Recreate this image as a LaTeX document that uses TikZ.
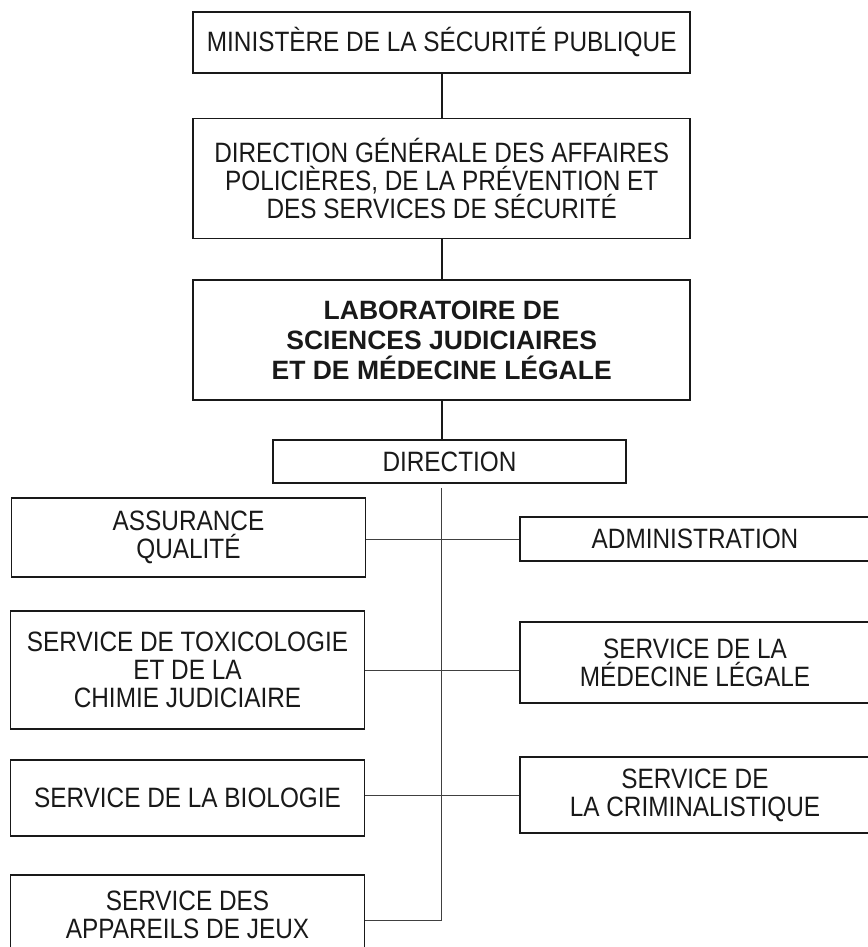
\documentclass[tikz,border=0pt]{standalone}
\usepackage{fontspec}
\setmainfont{Liberation Sans}[FakeStretch=0.87]
\newfontfamily\labfont{Liberation Sans}
\usepackage{tikz}
\usetikzlibrary{positioning}

\tikzset{
  box/.style={draw=black!90, line width=1.6pt, align=center, inner sep=0pt,
    text=black!90, font=\fontsize{28}{28}\selectfont},
  labbox/.style={box, font=\labfont\bfseries\fontsize{26.5}{30}\selectfont},
  leftbox/.style={box, minimum width=354pt},
  rightbox/.style={box, minimum width=350pt},
  bigline/.style={draw=black!90, line width=1.6pt},
  link/.style={draw=black!75, line width=1pt},
}

\begin{document}
\begin{tikzpicture}[x=1pt, y=-1pt]
  \useasboundingbox (0,0) rectangle (867,947);

  % hierarchy on top
  \node[box, minimum width=497pt, minimum height=61pt] (mini) at (441.7,42.5)
    {MINISTÈRE DE LA SÉCURITÉ PUBLIQUE}; %
  \node[box, minimum width=497pt, minimum height=120pt, below=44pt of mini] (dgap)
    {DIRECTION GÉNÉRALE DES AFFAIRES\\POLICIÈRES, DE LA PRÉVENTION ET\\DES SERVICES DE SÉCURITÉ}; %
  \node[labbox, minimum width=497pt, minimum height=120pt, below=40pt of dgap] (lsjml)
    {LABORATOIRE DE\\SCIENCES JUDICIAIRES\\ET DE MÉDECINE LÉGALE}; %
  \node[box, minimum width=353pt, minimum height=43pt] (dir) at (449.5,461.5) {DIRECTION}; %

  % services
  \node[leftbox, minimum height=79pt] (assur) at (188.5,537.5) {ASSURANCE\\QUALITÉ}; %
  \node[rightbox, minimum height=44pt] (admin) at (695,539) {ADMINISTRATION}; %
  \node[leftbox, minimum height=118pt] (toxi) at (187.5,670) {SERVICE DE TOXICOLOGIE\\ET DE LA\\CHIMIE JUDICIAIRE}; %
  \node[rightbox, minimum height=81pt] (medleg) at (695,662.5) {SERVICE DE LA\\MÉDECINE LÉGALE}; %
  \node[leftbox, minimum height=76pt] (bio) at (187.5,798) {SERVICE DE LA BIOLOGIE}; %
  \node[rightbox, minimum height=76pt] (crim) at (695,795) {SERVICE DE\\LA CRIMINALISTIQUE}; %
  \node[leftbox, minimum height=80pt] (appar) at (187.5,915) {SERVICE DES\\APPAREILS DE JEUX}; %

  % links
  \draw[bigline] (mini) -- (dgap);
  \draw[bigline] (dgap) -- (lsjml);
  \draw[bigline] (lsjml.south) -- (lsjml.south |- dir.north);

  \coordinate (trunk) at ([yshift=-4pt]lsjml.south |- dir.south);
  \coordinate (trunkend) at ([yshift=-5pt]appar.east -| trunk);
  \draw[link] (trunk) -- (trunkend) -- (trunkend -| appar.east);
  \draw[link] (admin.west) -- (admin.west -| assur.east);
  \draw[link] (toxi.east) -- (toxi.east -| medleg.west);
  \draw[link] (crim.west) -- (crim.west -| bio.east);

\end{tikzpicture}
\end{document}
